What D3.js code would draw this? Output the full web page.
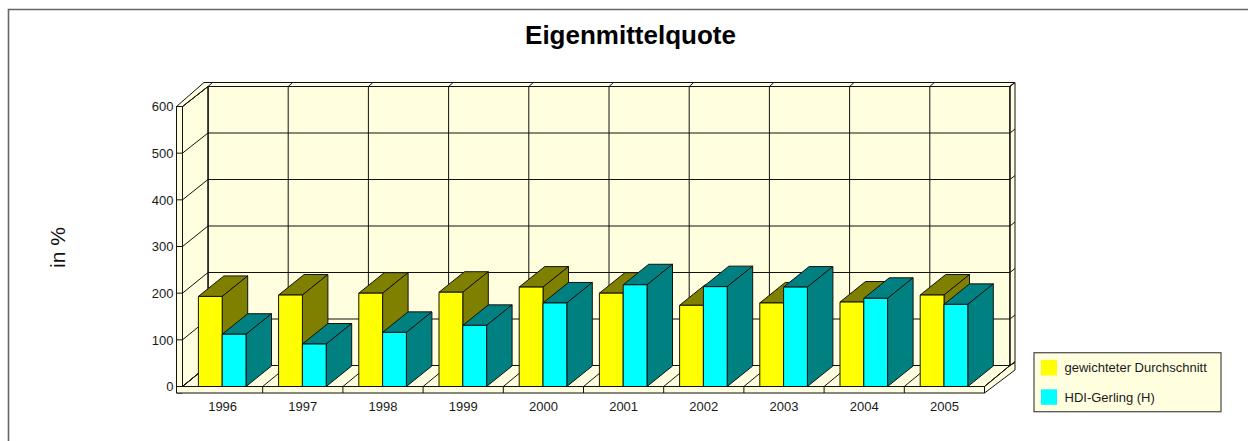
<!DOCTYPE html>
<html lang="de">
<head>
<meta charset="utf-8">
<title>Eigenmittelquote</title>
<script src="https://cdnjs.cloudflare.com/ajax/libs/d3/7.8.5/d3.min.js"></script>
<style>
  html, body { margin: 0; padding: 0; background: #fff; }
  svg { display: block; font-family: "Liberation Sans", Arial, sans-serif; }
  .axis path, .axis line { display: none; }
  .axis text { fill: #1a1a1a; font-size: 13px; }
</style>
</head>
<body>
<div id="chart"></div>
<script>
// Werte in Prozent
const years = ["1996","1997","1998","1999","2000","2001","2002","2003","2004","2005"];
const seriesNames = ["gewichteter Durchschnitt", "HDI-Gerling (H)"];
const durchschnitt = [193, 196, 200, 202, 213, 200, 174, 179, 181, 196];
const hdiGerling = [112, 91, 116, 131, 179, 218, 214, 213, 189, 176];
const yTicks = [0, 100, 200, 300, 400, 500, 600];

const width = 1248, height = 441;
const wallFill = "#FFFFE0", line = "#111";
const faces = [
  { front: "#FFFF00", side: "#808000" },
  { front: "#00FFFF", side: "#008080" }
];

// Projection of the chart box: front plane plus an oblique depth offset
const depth = { x: 25.5, y: -20.5 };
const plane = { left: 182.5, right: 984.5 };
const slab = { left: 176.5, bottom: 393, rightOut: 1015, topOut: 82.5 };

const x = d3.scaleBand().domain(years).range([plane.left, plane.right]);
const xBar = d3.scaleBand().domain(seriesNames).range([15.9, 63.5]);
const yFront = d3.scaleLinear().domain([0, 600]).range([386.5, 106.5]);
const yBack = d3.scaleLinear().domain([0, 600]).range([365.5, 86.5]);
const backX = v => v + depth.x;

const svg = d3.select("#chart").append("svg")
  .attr("width", width).attr("height", height);

// Outer chart frame: only top and left edges fall inside the page
svg.append("path")
  .attr("d", `M8.5,${height} V9.5 H${width}`)
  .attr("fill", "none").attr("stroke", "#666").attr("stroke-width", 1.6);

svg.append("text").attr("x", 630.5).attr("y", 44)
  .attr("text-anchor", "middle")
  .attr("font-size", 26).attr("font-weight", "bold").attr("fill", "#000")
  .text("Eigenmittelquote");

svg.append("text")
  .attr("transform", "translate(65,247.5) rotate(-90)")
  .attr("text-anchor", "middle").attr("font-size", 21).attr("fill", "#111")
  .text("in %");

const poly = (g, pts, fill, stroke = line, w = 1) => g.append("polygon")
  .attr("points", pts.map(p => p.join(",")).join(" "))
  .attr("fill", fill).attr("stroke", stroke).attr("stroke-width", w)
  .attr("stroke-linejoin", "round");

const seg = (g, x1, y1, x2, y2, stroke = line) => g.append("line")
  .attr("x1", x1).attr("y1", y1).attr("x2", x2).attr("y2", y2)
  .attr("stroke", stroke).attr("stroke-width", 1);

const box = svg.append("g");
const y0F = yFront(0), y0B = yBack(0), yTopF = yFront(600), yTopB = yBack(600);
const bl = backX(plane.left), br = backX(plane.right);

// Back wall, side walls and floor, each with its slab thickness
poly(box, [[bl, yTopB], [br, yTopB], [br, y0B], [bl, y0B]], wallFill);
poly(box, [[plane.left, yTopF], [bl, yTopB], [bl, y0B], [plane.left, y0F]], wallFill);
poly(box, [[slab.left, yTopF], [plane.left, yTopF], [plane.left, slab.bottom], [slab.left, slab.bottom]], wallFill);
poly(box, [[slab.left, yTopF], [bl - 4, slab.topOut], [slab.rightOut, slab.topOut], [br, yTopB], [bl, yTopB], [plane.left, yTopF]], wallFill);
poly(box, [[br, yTopB], [slab.rightOut, slab.topOut], [slab.rightOut, 362.5], [br, y0B]], wallFill);
poly(box, [[plane.left, y0F], [bl, y0B], [br, y0B], [plane.right, y0F]], wallFill);
poly(box, [[plane.right, y0F], [br, y0B], [slab.rightOut, 362.5], [slab.rightOut, 370], [plane.right, slab.bottom]], wallFill);
poly(box, [[slab.left, y0F], [plane.right, y0F], [plane.right, slab.bottom], [slab.left, slab.bottom]], wallFill);

// Horizontal gridlines across the left wall, back wall and right edge
yTicks.forEach(t => {
  seg(box, slab.left, yFront(t), plane.left, yFront(t));
  seg(box, plane.left, yFront(t), bl, yBack(t));
  seg(box, bl, yBack(t), br, yBack(t));
  seg(box, br, yBack(t), slab.rightOut, yBack(t) - 4);
});

// Vertical gridlines on the back wall, their floor runs and slab ticks
const boundaries = [...years.map(d => x(d)), plane.right];
boundaries.forEach((b, i) => {
  seg(box, backX(b), yTopB, backX(b), y0B);
  seg(box, backX(b), yTopB, backX(b) + 4.5, slab.topOut);
  seg(box, b, y0F, backX(b), y0B);
  if (i > 0) seg(box, b, y0F, b, slab.bottom);
});

// Bars, drawn category by category so nearer faces cover farther ones
const bars = svg.append("g");
years.forEach((year, i) => {
  [durchschnitt[i], hdiGerling[i]].forEach((value, s) => {
    const name = seriesNames[s];
    const x0 = x(year) + xBar(name), x1 = x0 + xBar.bandwidth();
    const top = yFront(value);
    const dx = depth.x, dy = depth.y;
    poly(bars, [[x0, top], [x1, top], [x1 + dx, top + dy], [x0 + dx, top + dy]], faces[s].side);
    poly(bars, [[x1, top], [x1 + dx, top + dy], [x1 + dx, y0F + dy], [x1, y0F]], faces[s].side);
    poly(bars, [[x0, top], [x1, top], [x1, y0F], [x0, y0F]], faces[s].front);
  });
});

// Axis labels
svg.append("g").attr("class", "axis")
  .attr("transform", `translate(0,${slab.bottom})`)
  .call(d3.axisBottom(x).tickSize(0).tickPadding(9));
svg.append("g").attr("class", "axis")
  .attr("transform", `translate(${slab.left},0)`)
  .call(d3.axisLeft(yFront).tickValues(yTicks).tickSize(0).tickPadding(3));

// Legend
const legend = svg.append("g");
legend.append("rect")
  .attr("x", 1034).attr("y", 352.7).attr("width", 187).attr("height", 59)
  .attr("fill", wallFill).attr("stroke", "#555").attr("stroke-width", 1.3);
seriesNames.forEach((name, s) => {
  const row = 360 + s * 29.3;
  legend.append("rect").attr("x", 1041).attr("y", row).attr("width", 16).attr("height", 15.5)
    .attr("fill", faces[s].front);
  legend.append("text").attr("x", 1064.5).attr("y", row + 12.3)
    .attr("font-size", 13).attr("fill", "#1a1a1a").text(name);
});
</script>
</body>
</html>
